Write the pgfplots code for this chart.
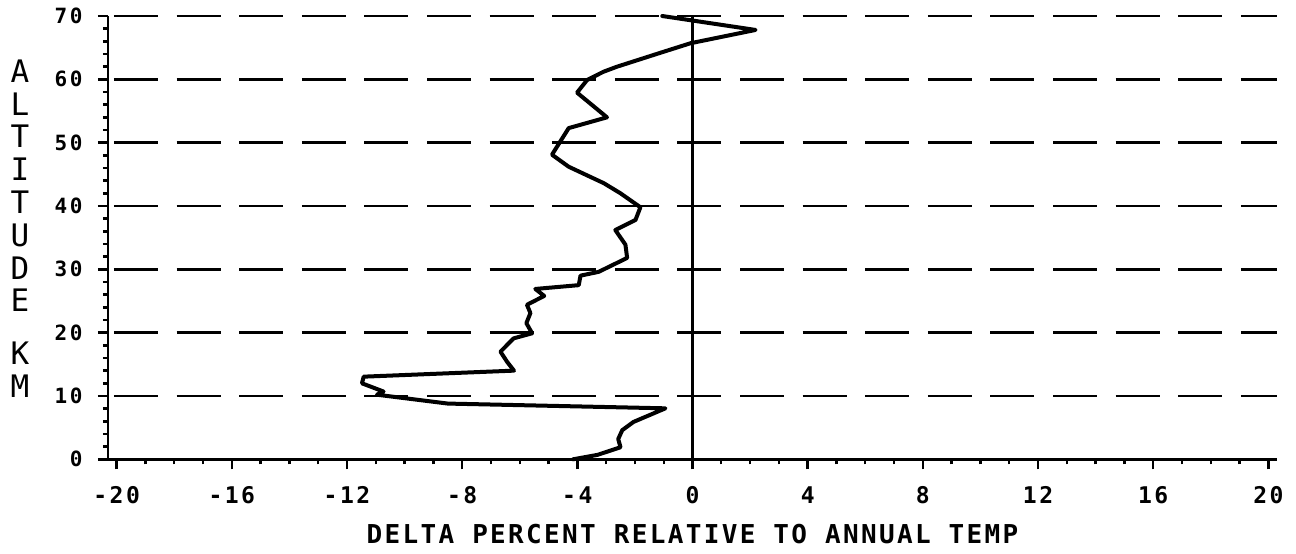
\documentclass[border=0pt]{standalone}
\usepackage{fontspec}
\usepackage{pgfplots}
\pgfplotsset{compat=1.18}
\newfontfamily\tickfont{DejaVu Sans Mono}[LetterSpace=11]
\newfontfamily\ytickfont{DejaVu Sans Mono}[LetterSpace=13]
\newfontfamily\xlabfont{DejaVu Sans Mono}[LetterSpace=9]
\newfontfamily\ylabfont{DejaVu Sans Mono}
\pgfplotstableread{
x y
-4.15 0
-3.3 0.7
-2.5 1.9
-2.58 3.2
-2.44 4.6
-2.05 5.9
-0.94 8.05
-8.5 8.8
-9.9 9.6
-10.96 10.2
-10.73 10.7
-11.48 12.0
-11.42 13.05
-6.2 14.0
-6.44 15.4
-6.67 17.0
-6.21 19.1
-5.57 19.9
-5.77 21.5
-5.63 23.1
-5.75 24.4
-5.15 25.8
-5.46 26.9
-3.95 27.5
-3.89 29.0
-3.26 29.6
-2.27 31.8
-2.33 33.9
-2.68 36.2
-1.98 37.8
-1.81 39.8
-2.50 42.0
-3.08 43.6
-4.30 46.2
-4.88 48.1
-4.59 50.2
-4.30 52.3
-2.97 54.0
-4.01 57.9
-3.66 59.9
-3.09 61.2
-2.62 62.0
-1.11 64.2
-0.07 65.7
2.19 67.8
-1.05 70.0
}\profile
\begin{document}
\begin{tikzpicture}
\path[use as bounding box] (-54pt,-46.85pt) rectangle (594pt,229.65pt);
\begin{axis}[
  at={(0,0)}, anchor=south west,
  scale only axis, width=584.5pt, height=221.65pt,
  xmin=-20.3, xmax=20.3, ymin=0, ymax=70,
  axis lines=left,
  axis line style={-, line width=1.4pt},
  xtick={-20,-16,...,20}, ytick={0,10,...,70},
  minor x tick num=3, minor y tick num=4,
  tick align=outside, major tick length=5pt, minor tick length=2.5pt,
  tick style={line width=1.2pt, black},
  ymajorgrids,
  major grid style={line width=1.4pt, black, dash pattern=on 22pt off 9.3pt, dash phase=28.3pt},
  /pgf/number format/assume math mode=true,
  xticklabel style={font=\tickfont\bfseries\fontsize{11.5}{11.5}\selectfont, yshift=-5pt},
  yticklabel style={font=\ytickfont\bfseries\fontsize{10.5}{10.5}\selectfont, xshift=-4.2pt},
  every axis x label/.style={at={(rel axis cs:0.5,0)}, anchor=center, yshift=-37.4pt,
    font=\xlabfont\bfseries\fontsize{13}{13}\selectfont},
  every axis y label/.style={at={(rel axis cs:0,0.5)}, anchor=center, xshift=-44pt, yshift=4.5pt,
    align=center, font=\ylabfont\fontsize{15.5}{16.4}\selectfont},
  xlabel={DELTA PERCENT RELATIVE TO ANNUAL TEMP},
  ylabel={A\\L\\T\\I\\T\\U\\D\\E\\[10pt]K\\M},
  clip=false,
]
\addplot[line width=1.1pt, black] coordinates {(0,0) (0,70)};
\addplot[line width=2pt, black, line join=round, line cap=round] table[x=x, y=y] {\profile};
\end{axis}
\end{tikzpicture}
\end{document}
